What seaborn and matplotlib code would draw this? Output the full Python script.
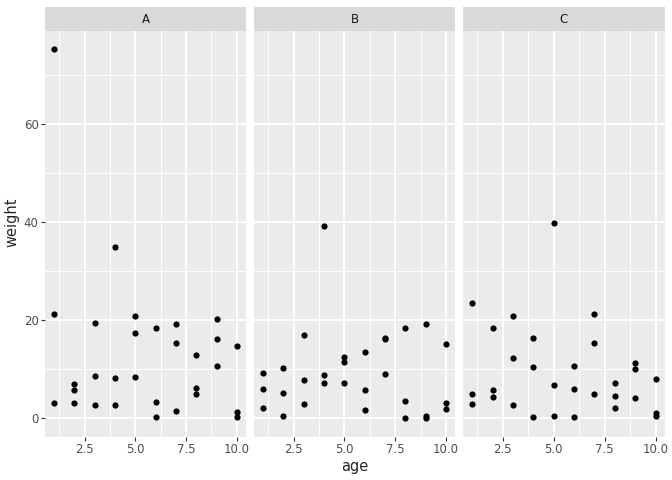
import matplotlib

matplotlib.use("Agg")
import matplotlib.pyplot as plt
import numpy as np
import pandas as pd
import seaborn as sns
from matplotlib.patches import Rectangle

GROUPS = ["A", "B", "C"]
AGES = [1, 1, 1, 2, 2, 2, 3, 3, 3, 4, 4, 4, 5, 5, 5,
        6, 6, 6, 7, 7, 7, 8, 8, 8, 9, 9, 9, 10, 10, 10]
WEIGHT_A = [75.2, 21.3, 3.2, 7.0, 5.8, 3.2, 19.4, 8.7, 2.7, 35.0, 8.3, 2.7,
            20.9, 17.3, 8.4, 18.4, 3.4, 0.2, 19.2, 15.4, 1.5, 13.0, 6.1, 4.9,
            20.3, 16.2, 10.6, 14.8, 1.3, 0.2]
WEIGHT_B = [9.2, 6.0, 2.1, 10.2, 5.2, 0.4, 17.0, 7.9, 3.0, 39.1, 8.8, 7.2,
            12.4, 11.4, 7.2, 13.5, 5.8, 1.7, 16.3, 16.1, 9.1, 18.5, 3.6, 0.1,
            19.3, 0.5, 0.0, 15.1, 3.2, 1.8]
WEIGHT_C = [23.6, 4.9, 3.0, 18.5, 5.8, 4.4, 20.8, 12.2, 2.8, 16.4, 10.4, 0.2,
            39.9, 6.7, 0.5, 10.7, 5.9, 0.2, 21.2, 15.4, 4.9, 7.2, 4.6, 2.0,
            11.2, 10.1, 4.2, 8.0, 1.0, 0.5]
X_TICKS = [2.5, 5.0, 7.5, 10.0]
X_TICK_LABELS = ["2.5", "5.0", "7.5", "10.0"]
Y_TICKS = [0, 20, 40, 60]

df = pd.concat(
    [
        pd.DataFrame({"group": g, "age": AGES, "weight": w})
        for g, w in zip(GROUPS, [WEIGHT_A, WEIGHT_B, WEIGHT_C])
    ],
    ignore_index=True,
)

sns.set_theme(
    style="darkgrid",
    rc={
        "axes.facecolor": "#EBEBEB",
        "grid.color": "white",
        "axes.edgecolor": "#EBEBEB",
        "xtick.color": "#333333",
        "ytick.color": "#333333",
        "xtick.labelcolor": "#4D4D4D",
        "ytick.labelcolor": "#4D4D4D",
        "xtick.labelsize": 8.5,
        "ytick.labelsize": 8.5,
    },
)
plt.rcParams["font.family"] = ["DejaVu Sans"]

g = sns.FacetGrid(df, col="group", col_order=GROUPS, sharex=True, sharey=True)
g.map_dataframe(sns.scatterplot, x="age", y="weight", s=20, color="black", linewidth=0)
fig = g.figure
fig.set_size_inches(6.72, 4.8)
g.set_titles("")
g.set_axis_labels("", "")

W, H = 672, 480
panels = [(45, 246), (254, 455.3), (463, 664.7)]
top_px, bottom_px, strip_top_px = 31, 436.7, 7.3

ymin, ymax = -3.76, 78.96
for ax, grp, (l, r) in zip(g.axes.flat, GROUPS, panels):
    ax.set_position([l / W, 1 - bottom_px / H, (r - l) / W, (bottom_px - top_px) / H])
    ax.set_xlim(0.55, 10.45)
    ax.set_ylim(ymin, ymax)
    ax.set_xticks(X_TICKS)
    ax.set_xticklabels(X_TICK_LABELS)
    ax.set_xticks([1.25, 3.75, 6.25, 8.75], minor=True)
    ax.set_yticks(Y_TICKS)
    ax.set_yticks([10, 30, 50, 70], minor=True)
    ax.grid(which="major", color="white", linewidth=1.35)
    ax.grid(which="minor", color="white", linewidth=0.68)
    for sp in ax.spines.values():
        sp.set_visible(False)
    ax.tick_params(which="major", length=2.6, width=0.8, pad=2.0, bottom=True, left=True)
    ax.tick_params(which="minor", length=0)
    ax.set_xlabel("")
    ax.set_ylabel("")
    if grp != "A":
        ax.tick_params(axis="y", left=False, labelleft=False)

    fig.add_artist(
        Rectangle(
            (l / W, 1 - top_px / H),
            (r - l) / W,
            (top_px - strip_top_px) / H,
            transform=fig.transFigure,
            facecolor="#D9D9D9",
            edgecolor="none",
        )
    )
    fig.text(
        (l + r) / 2 / W,
        1 - (top_px + strip_top_px) / 2 / H,
        grp,
        ha="center",
        va="center",
        fontsize=8.5,
        color="#1A1A1A",
    )

fig.text((45 + 664.7) / 2 / W, 1 - 466 / H, "age", ha="center", va="center", fontsize=10.5)
fig.text(12 / W, 1 - 222 / H, "weight", ha="center", va="center", rotation=90, fontsize=10.5)

fig.savefig("out.png", dpi=100)
